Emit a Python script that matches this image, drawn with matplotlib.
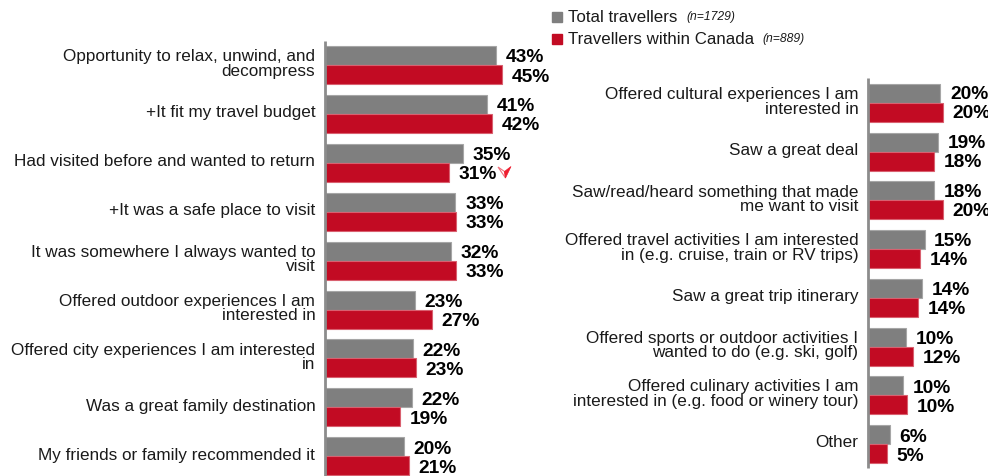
import matplotlib
matplotlib.use("Agg")
import matplotlib.pyplot as plt
import numpy as np

plt.rcParams['font.family'] = ['Liberation Sans', 'DejaVu Sans']

GREY = '#7f7f7f'
RED = '#c20b23'
TEXT = '#1a1a1a'

left_cats = ["Opportunity to relax, unwind, and\ndecompress", "+It fit my travel budget",
             "Had visited before and wanted to return", "+It was a safe place to visit",
             "It was somewhere I always wanted to\nvisit", "Offered outdoor experiences I am\ninterested in",
             "Offered city experiences I am interested\nin", "Was a great family destination",
             "My friends or family recommended it"]
left_total = [43.3, 41.0, 35.0, 33.0, 31.8, 22.8, 22.3, 22.0, 20.0]
left_canada = [44.9, 42.2, 31.3, 33.2, 33.2, 27.0, 23.0, 19.1, 21.3]
left_total_labels = ["43%", "41%", "35%", "33%", "32%", "23%", "22%", "22%", "20%"]
left_canada_labels = ["45%", "42%", "31%", "33%", "33%", "27%", "23%", "19%", "21%"]

right_cats = ["Offered cultural experiences I am\ninterested in", "Saw a great deal",
              "Saw/read/heard something that made\nme want to visit",
              "Offered travel activities I am interested\nin (e.g. cruise, train or RV trips)",
              "Saw a great trip itinerary",
              "Offered sports or outdoor activities I\nwanted to do (e.g. ski, golf)",
              "Offered culinary activities I am\ninterested in (e.g. food or winery tour)", "Other"]
right_total = [19.7, 19.2, 18.1, 15.4, 14.6, 10.3, 9.5, 5.9]
right_canada = [20.3, 18.1, 20.3, 14.1, 13.5, 12.2, 10.5, 5.1]
right_total_labels = ["20%", "19%", "18%", "15%", "14%", "10%", "10%", "6%"]
right_canada_labels = ["20%", "18%", "20%", "14%", "14%", "12%", "10%", "5%"]

W, H = 988, 476
CAT_SIZE = 12.3
VAL_SIZE = 13.8

fig = plt.figure(figsize=(W / 100, H / 100), dpi=100)


def panel(x0, x1, y0, y1, px_per_pct, pitch, first_top, cats, total, canada, tot_lab, can_lab,
          lab_shift, lab_drift):
    # axes placed in pixels, y axis counted in pixels from the image top
    ax = fig.add_axes([x0 / W, 1 - y1 / H, (x1 - x0) / W, (y1 - y0) / H])
    ax.set_xlim(0, (x1 - x0) / px_per_pct)
    ax.set_ylim(y1, y0)
    ax.axis('off')
    y = first_top + pitch * np.arange(len(cats))
    ax.barh(y + 9.5, total, height=19, color=GREY, edgecolor='#a6a6a6', linewidth=0.8)
    ax.barh(y + 28.5, canada, height=19, color=RED, edgecolor='#d9606f', linewidth=0.8)
    ax.plot([0, 0], [y0, y1], color='#8c8c8c', lw=2, clip_on=False, solid_capstyle='butt')
    for i, cat in enumerate(cats):
        ly = y[i] + lab_shift + lab_drift * i
        ax.annotate(cat, (0, y[i] + 18), xytext=(-7, 0), textcoords='offset points',
                    ha='right', va='center', fontsize=CAT_SIZE, color=TEXT,
                    linespacing=0.98, annotation_clip=False)
        ax.annotate(tot_lab[i], (total[i], ly + 10.5), xytext=(7, 0), textcoords='offset points',
                    ha='left', va='center', fontsize=VAL_SIZE, fontweight='bold',
                    color='black', annotation_clip=False)
        ax.annotate(can_lab[i], (canada[i], ly + 29.5), xytext=(7, 0), textcoords='offset points',
                    ha='left', va='center', fontsize=VAL_SIZE, fontweight='bold',
                    color='black', annotation_clip=False)
    return ax


ax1 = panel(325, 560, 41, 476, 3.95, 48.9, 46, left_cats, left_total, left_canada,
            left_total_labels, left_canada_labels, 1.5, 0)
ax2 = panel(868, 988, 78, 468, 3.67, 48.7, 84, right_cats, right_total, right_canada,
            right_total_labels, right_canada_labels, 0, 0.3)

# legend
for ypx, col, name, n, nx in [(17, GREY, "Total travellers", "(n=1729)", 686),
                              (39, RED, "Travellers within Canada", "(n=889)", 762)]:
    fig.patches.append(plt.Rectangle((552 / W, 1 - (ypx + 5) / H), 10 / W, 10 / H,
                                     transform=fig.transFigure, color=col))
    fig.text(568 / W, 1 - ypx / H, name, fontsize=12.2, color=TEXT, va='center')
    fig.text(nx / W, 1 - ypx / H, n, fontsize=8.7, style='italic', color=TEXT, va='center')


def px(x, y):
    return (x / W, 1 - y / H)


# significance marker next to the 31% label: white left facet, solid right facet
fig.patches.append(plt.Polygon([px(498, 167), px(504.5, 171.5), px(505.5, 178)], closed=True,
                               transform=fig.transFigure, facecolor='white',
                               edgecolor='#f0707c', linewidth=0.8))
fig.patches.append(plt.Polygon([px(511, 166.5), px(504.5, 171.5), px(505.5, 178)], closed=True,
                               transform=fig.transFigure, facecolor='#ee1c2e',
                               edgecolor='#ee1c2e', linewidth=0.5))

fig.savefig("out.png", dpi=100)
